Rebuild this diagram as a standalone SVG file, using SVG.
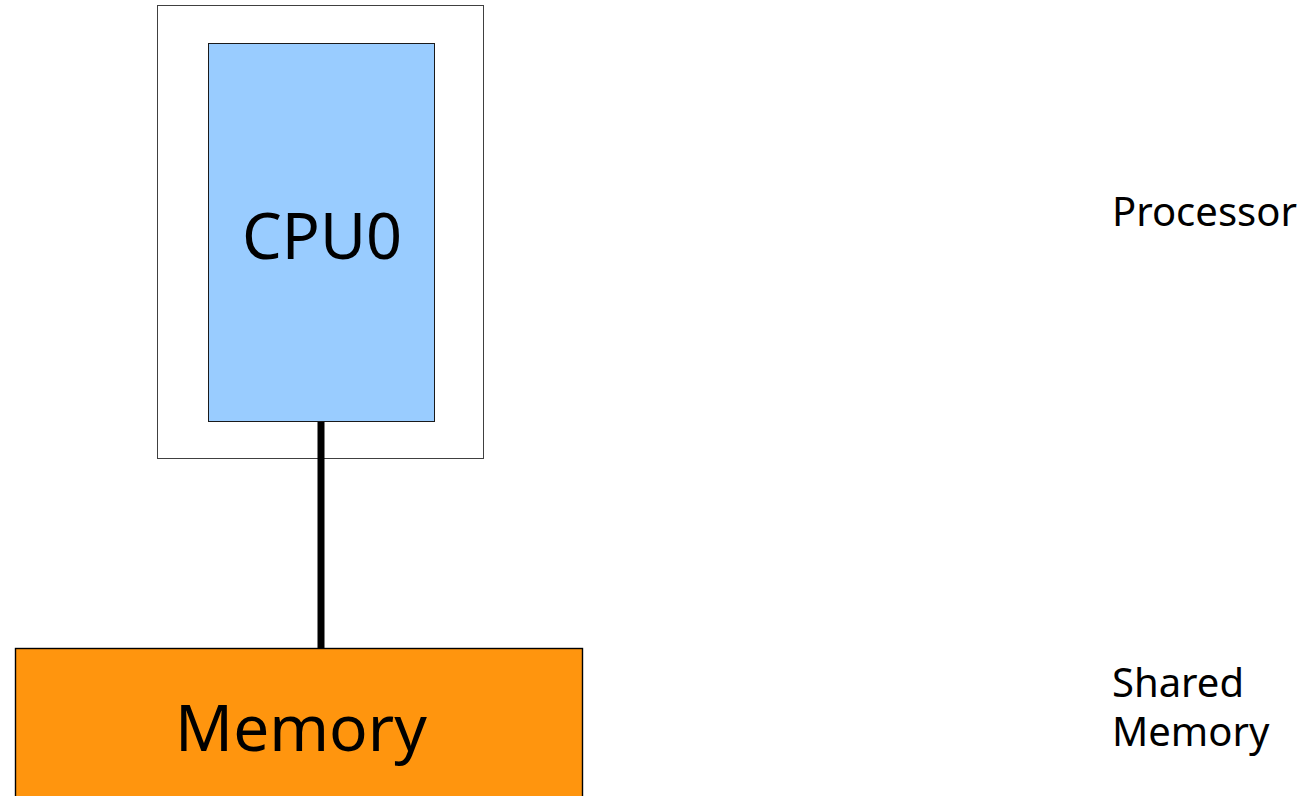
<svg xmlns="http://www.w3.org/2000/svg" width="1316" height="796" viewBox="0 0 1316 796">
  <style>
    .lbl { font-family: "Noto Sans", "Open Sans", sans-serif; fill: #000000; }
    .frame { fill: #ffffff; stroke: #404040; stroke-width: 1; }
    .cpu { fill: #99ccff; stroke: #1a1a1a; stroke-width: 1; }
    .mem { fill: #ff950e; stroke: #000000; stroke-width: 1.4; }
    .bus { stroke: #000000; stroke-width: 7; fill: none; }
  </style>
  <rect width="1316" height="796" fill="#ffffff"/>

  <!-- processor package with the CPU core -->
  <g id="processor">
    <rect class="frame" x="157.5" y="5.5" width="326" height="453"/>
  </g>
  <g id="cpu0">
    <rect class="cpu" x="208.5" y="43.5" width="226" height="378"/>
    <text class="lbl" x="322" y="259" font-size="63" text-anchor="middle">CPU0</text>
  </g>

  <!-- shared memory block -->
  <g id="memory">
    <rect class="mem" x="15.5" y="648.5" width="567" height="160"/>
    <text class="lbl" x="301" y="751" font-size="64" text-anchor="middle">Memory</text>
  </g>

  <!-- bus between CPU and memory -->
  <g id="connectors">
    <line class="bus" x1="321" y1="422" x2="321" y2="648"/>
  </g>

  <!-- layer captions -->
  <g id="captions">
    <text class="lbl" x="1112" y="226" font-size="40">Processor</text>
    <text class="lbl" x="1112" y="697" font-size="40">Shared</text>
    <text class="lbl" x="1112" y="746" font-size="40">Memory</text>
  </g>
</svg>
